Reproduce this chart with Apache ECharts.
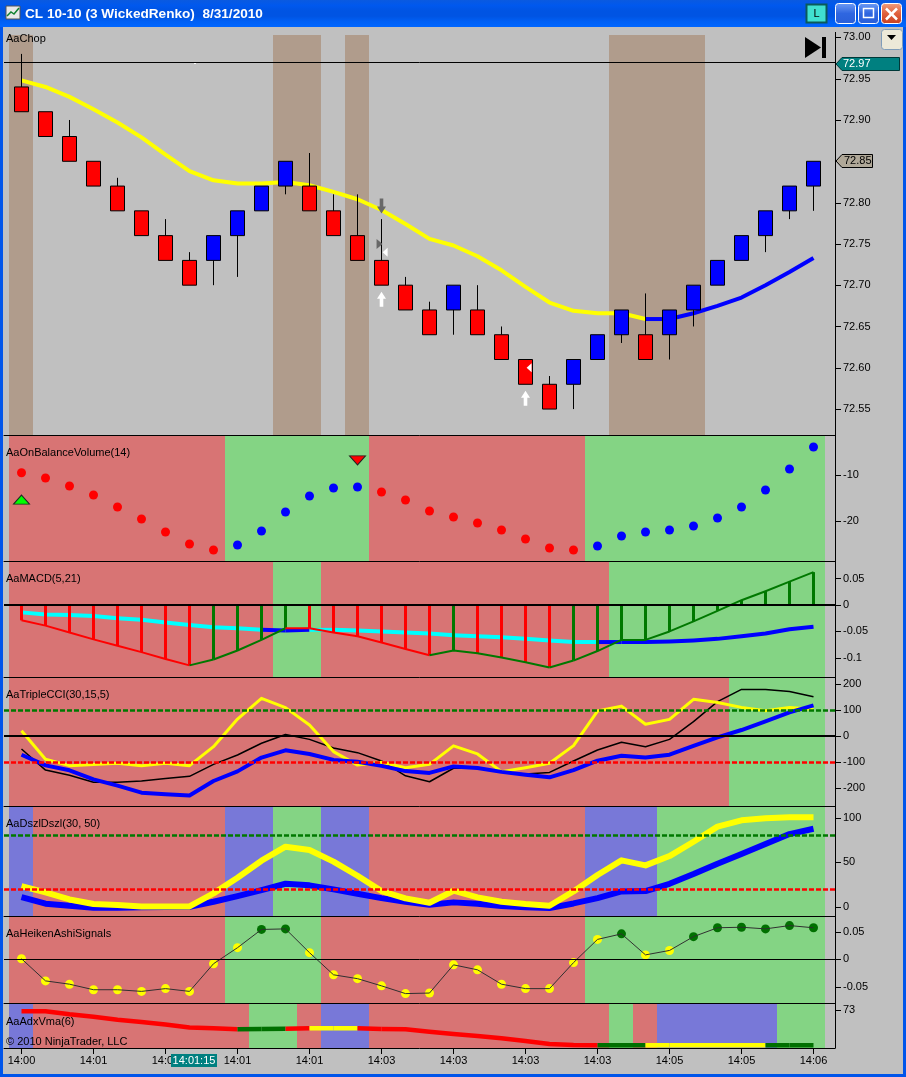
<!DOCTYPE html>
<html><head><meta charset="utf-8">
<style>html,body{margin:0;padding:0;background:#c0c0c0}#c{width:906px;height:1077px}</style>
<script src="https://cdn.jsdelivr.net/npm/echarts@6/dist/echarts.min.js"></script>
</head><body><div id="c"></div>
<script>
// ---------- data ----------
const barOpen  = [72.94,72.91,72.88,72.85,72.82,72.79,72.76,72.73,72.73,72.76,72.79,72.82,72.82,72.79,72.76,72.73,72.70,72.67,72.67,72.67,72.64,72.61,72.58,72.58,72.61,72.64,72.64,72.64,72.67,72.70,72.73,72.76,72.79,72.82];
const barClose = [72.91,72.88,72.85,72.82,72.79,72.76,72.73,72.70,72.76,72.79,72.82,72.85,72.79,72.76,72.73,72.70,72.67,72.64,72.70,72.64,72.61,72.58,72.55,72.61,72.64,72.67,72.61,72.67,72.70,72.73,72.76,72.79,72.82,72.85];
const barLow   = [72.91,72.88,72.85,72.82,72.79,72.76,72.73,72.70,72.70,72.71,72.79,72.81,72.79,72.76,72.73,72.70,72.67,72.64,72.64,72.64,72.61,72.58,72.55,72.55,72.61,72.63,72.61,72.61,72.65,72.70,72.73,72.74,72.78,72.79];
const barHigh  = [72.98,72.91,72.90,72.85,72.83,72.79,72.78,72.74,72.76,72.79,72.82,72.85,72.86,72.81,72.81,72.78,72.71,72.68,72.70,72.70,72.65,72.61,72.59,72.61,72.64,72.67,72.69,72.67,72.70,72.73,72.76,72.79,72.82,72.85];
const sma = [72.948,72.94,72.928,72.913,72.897,72.879,72.858,72.838,72.827,72.823,72.823,72.825,72.821,72.813,72.804,72.791,72.774,72.756,72.748,72.735,72.718,72.698,72.679,72.669,72.666,72.666,72.659,72.659,72.666,72.675,72.685,72.70,72.716,72.733];
const smaColors = 'YYYYYYYYYYYYYYYYYYYYYYYYYYYBBBBBBB';
const chopBands = '#..........##.#..........####.....';

const obv = [-9.57,-10.72,-12.45,-14.39,-16.98,-19.57,-22.37,-24.96,-26.26,-25.18,-22.16,-18.06,-14.6,-12.88,-12.66,-13.74,-15.47,-17.84,-19.14,-20.43,-21.94,-23.88,-25.83,-26.26,-25.4,-23.24,-22.37,-21.94,-21.08,-19.35,-16.98,-13.31,-8.78,-4.03];
const obvColors = 'RRRRRRRRRBBBBBBRRRRRRRRRBBBBBBBBBB';
const obvBands  = 'RRRRRRRRRGGGGGGRRRRRRRRRGGGGGGGGGG';

const macdHist = [-0.029,-0.039,-0.052,-0.065,-0.077,-0.089,-0.102,-0.114,-0.103,-0.086,-0.066,-0.044,-0.044,-0.052,-0.059,-0.071,-0.083,-0.095,-0.086,-0.091,-0.099,-0.108,-0.118,-0.105,-0.087,-0.066,-0.066,-0.05,-0.031,-0.011,0.009,0.026,0.044,0.062];
const macdHistColors = 'RRRRRRRRGGGGRRRRRRGRRRRGGGGGGGGGGG';
const macdSignal = [-0.014,-0.018,-0.019,-0.021,-0.025,-0.028,-0.033,-0.038,-0.042,-0.044,-0.047,-0.048,-0.047,-0.047,-0.048,-0.05,-0.052,-0.054,-0.057,-0.059,-0.061,-0.064,-0.067,-0.07,-0.07,-0.07,-0.07,-0.069,-0.067,-0.064,-0.059,-0.054,-0.046,-0.041];
const macdSignalColors = 'CCCCCCCCCCCBBCCCCCCCCCCCCBBBBBBBBB';
const macdBands = 'RRRRRRRRRRRGGRRRRRRRRRRRRGGGGGGGGG';

const cciYellow = [20.5,-89.7,-114,-110,-105,-114,-105,-114,-41,65,145,109,42,-60,-112,-101,-122,-109,-38,-69,-137,-122,-105,-37,96,115,45,64,141,129,110,97,110,103];
const cciBlack  = [-50,-131,-151,-178,-178,-173,-163,-155,-109,-73,-28,6,-13,-46,-64,-96,-153,-176,-124,-124,-137,-146,-140,-96,-54,-24,-41,-13,55,132,179,179,171,151];
const cciBlue   = [-72,-113,-132,-167,-191,-218,-224,-229,-173,-136,-83,-55,-69,-92,-99,-115,-135,-142,-117,-123,-138,-149,-159,-131,-95,-76,-83,-72,-38,-5,23,56,91,118];
const cciBands  = 'RRRRRRRRRRRRRRRRRRRRRRRRRRRRRRGGGG';

const dszlYellow = [23.2,16.1,8.2,3,1.9,0.4,0.4,0.4,15,32.6,51.7,67.4,63.7,50.6,34.8,17.6,9.4,4.5,18,10.5,5.6,3,1.1,17.2,35.6,52.1,46.4,56.9,73,89.9,97,99.3,100.4,100.4];
const dszlBlue   = [10.9,3.4,1.1,-1.1,-1.1,-0.7,-0.4,0,5.6,12,18.7,25.8,24,19.5,14.6,9.7,5.6,2.2,4.9,3.4,0.7,-0.7,-1.5,3.7,9.7,17.2,17.6,25.8,36.7,48.3,59.2,70.4,81.6,87.6];
const dszlBands  = 'LRRRRRRRRLLGGLLRRRRRRRRRLLLGGGGGGG';

const heiken = [0.001,-0.039,-0.045,-0.055,-0.055,-0.058,-0.053,-0.058,-0.008,0.021,0.054,0.055,0.012,-0.028,-0.035,-0.048,-0.062,-0.061,-0.01,-0.019,-0.045,-0.053,-0.053,-0.006,0.036,0.046,0.008,0.016,0.041,0.057,0.058,0.055,0.061,0.057];
const heikenColors = 'YYYYYYYYYYDDYYYYYYYYYYYYYDYYDDDDDD';
const heikenBands  = 'RRRRRRRRRGGGGRRRRRRRRRRRGGGGGGGGGG';

const adx = [72.989,72.989,72.964,72.944,72.919,72.9,72.878,72.853,72.847,72.839,72.842,72.844,72.847,72.847,72.847,72.842,72.839,72.819,72.8,72.783,72.764,72.742,72.717,72.708,72.706,72.706,72.706,72.706,72.706,72.706,72.706,72.706,72.706,72.706];
const adxColors = 'RRRRRRRRRRDDRYYRRRRRRRRRRDRYYYYYDD';
const adxBands  = 'LRRRRRRRRRGGRLLRRRRRRRRRRGRLLLLLGG';

const timeIndex  = [0,3,6,9,12,15,18,21,24,27,30,33];
const timeLabels = ['14:00','14:01','14:01','14:01','14:01','14:03','14:03','14:03','14:03','14:05','14:05','14:06'];
const mainTicks = [73,72.95,72.9,72.85,72.8,72.75,72.7,72.65,72.6,72.55];
const obvTicks  = [-10,-20];
const macdTicks = [0.05,0,-0.05,-0.1];
const cciTicks  = [200,100,0,-100,-200];
const dszlTicks = [100,50,0];
const heikenTicks = [0.05,0,-0.05];
const adxTicks  = [73];

// ---------- styling ----------
const BG='#c0c0c0';
const BAND={'#':'#b09c8c','R':'#d87474','G':'#84d484','L':'#7878d8','.':null};
const LINE={Y:'#ffff00',B:'#0000ff',R:'#ff0000',C:'#00ffff',G:'#007800',D:'#007000'};
const FONT='"Liberation Sans",Arial,sans-serif';
const panels=[
 {top:35,  bottom:435, min:72.5186,max:73.0029,ticks:mainTicks,fmt:v=>v.toFixed(2)},
 {top:435, bottom:561, min:-28.64,max:-1.43,ticks:obvTicks,fmt:v=>String(v)},
 {top:561, bottom:677, min:-0.136,max:0.083,ticks:macdTicks,fmt:v=>String(v)},
 {top:677, bottom:806, min:-269.2,max:226.9,ticks:cciTicks,fmt:v=>String(v)},
 {top:806, bottom:916, min:-10.4,max:113.1,ticks:dszlTicks,fmt:v=>String(v)},
 {top:916, bottom:1003,min:-0.079,max:0.0783,ticks:heikenTicks,fmt:v=>String(v)},
 {top:1003,bottom:1048,min:72.683,max:73.058,ticks:adxTicks,fmt:v=>String(v)}
];
// bar centres sit half a pixel right of the band centres
const XMIN=-17.5/24, XMAX=813.5/24, BANDSHIFT=0.5/24;
const grid=panels.map(p=>({left:4,width:831,top:p.top,height:p.bottom-p.top}));
const xAxis=panels.map((p,i)=>{const last=i===panels.length-1;return{
  type:'value',gridIndex:i,min:XMIN,max:XMAX,position:'bottom',
  axisLine:{show:true,onZero:false,lineStyle:{color:'#000',width:1}},
  splitLine:{show:false},
  axisTick:{show:false},
  axisLabel:{show:last,customValues:timeIndex,margin:7,fontFamily:FONT,fontSize:11,color:'#000',
    formatter:v=>timeLabels[timeIndex.indexOf(Math.round(v))]||''}
};});
const yAxis=panels.map((p,i)=>({
  type:'value',gridIndex:i,position:'right',min:p.min,max:p.max,
  axisLine:{show:true,onZero:false,lineStyle:{color:'#000',width:1}},
  splitLine:{show:false},
  axisTick:{show:false},
  axisLabel:{show:true,customValues:p.ticks,margin:8,fontFamily:FONT,fontSize:11,color:'#000',formatter:p.fmt}
}));
const pts=a=>a.map((v,i)=>[i,v]);
function bands(panel,str){
  return {type:'custom',xAxisIndex:panel,yAxisIndex:panel,z:0,silent:true,clip:true,
    data:str.split('').map((c,i)=>[i,c]),
    encode:{x:0},
    renderItem(params,api){
      const i=api.value(0), c=str[i], col=BAND[c];
      if(!col) return null;
      const P=panels[panel];
      const a=api.coord([i-0.5-BANDSHIFT,P.max]), b=api.coord([i+0.5-BANDSHIFT,P.min]);
      return {type:'rect',shape:{x:a[0],y:a[1],width:b[0]-a[0],height:b[1]-a[1]},style:{fill:col}};
    }};
}
// tick marks placed through each panel's own scales
function yTicks(panel){
  const P=panels[panel];
  return {type:'custom',xAxisIndex:panel,yAxisIndex:panel,z:9,silent:true,clip:false,
    data:P.ticks.map(v=>[XMAX,v]),encode:{x:0,y:1},
    renderItem(params,api){
      const c=api.coord([XMAX,api.value(1)]), y=Math.round(c[1])+0.5;
      return {type:'line',shape:{x1:c[0],y1:y,x2:c[0]+6,y2:y},style:{stroke:'#000',lineWidth:1}};
    }};
}
function xTicks(panel){
  const P=panels[panel];
  return {type:'custom',xAxisIndex:panel,yAxisIndex:panel,z:9,silent:true,clip:false,
    data:timeIndex.map(v=>[v,P.min]),encode:{x:0,y:1},
    renderItem(params,api){
      const c=api.coord([api.value(0),P.min]), x=Math.floor(c[0])+0.5;
      return {type:'line',shape:{x1:x,y1:c[1],x2:x,y2:c[1]+6},style:{stroke:'#000',lineWidth:1}};
    }};
}
function line(panel,vals,color,width,z,extra){
  return Object.assign({type:'line',xAxisIndex:panel,yAxisIndex:panel,data:pts(vals),symbol:'none',silent:true,z:z||2,
    lineStyle:{color,width,join:'round'}},extra||{});
}
// one line series per colour run; a segment takes the colour of the bar it ends on
function runs(panel,vals,cols,width,z){
  const out=[];let s=0;
  for(let i=1;i<=vals.length;i++){
    if(i===vals.length||cols[i]!==cols[s===0?1:s]){
      const from=s, to=i-1;
      const data=[];for(let k=from;k<=to;k++)data.push([k,vals[k]]);
      out.push({type:'line',xAxisIndex:panel,yAxisIndex:panel,data,symbol:'none',silent:true,z:z||2,
        lineStyle:{color:LINE[cols[from===0?1:from+1]],width,join:'round'}});
      s=to;
    }
  }
  return out;
}
function hline(v,color,width,dash){
  return {silent:true,symbol:'none',label:{show:false},animation:false,
    lineStyle:{color,width:dash?2.5:width,type:dash?[5,2]:'solid'},data:[{yAxis:v}]};
}
const arrowDown='path://M3,0 L7,0 L7,8 L10,8 L5,15 L0,8 L3,8 Z';
const arrowUp='path://M5,0 L10,7 L7,7 L7,15 L3,15 L3,7 L0,7 Z';
const triRight='path://M0,0 L7,5 L0,10 Z';
const triLeft='path://M7,0 L0,5 L7,10 Z';
const series=[
  bands(0,chopBands),bands(1,obvBands),bands(2,macdBands),bands(3,cciBands),bands(4,dszlBands),bands(5,heikenBands),bands(6,adxBands),
  ...panels.map((p,i)=>yTicks(i)),xTicks(6),
  // main panel
  ...runs(0,sma,smaColors,4,2),
  {type:'candlestick',xAxisIndex:0,yAxisIndex:0,z:3,silent:true,barWidth:14,
   data:barOpen.map((o,i)=>[i,o,barClose[i],barLow[i],barHigh[i]]),
   encode:{x:0,y:[1,2,3,4]},
   itemStyle:{color:'#0000ff',color0:'#ff0000',borderColor:'#000',borderColor0:'#000',borderWidth:1}},
  {type:'line',xAxisIndex:0,yAxisIndex:0,data:[],z:2,silent:true,markLine:hline(72.968,'#000',1)},
  {type:'scatter',xAxisIndex:0,yAxisIndex:0,z:4,silent:true,symbol:arrowDown,symbolSize:[9,15],itemStyle:{color:'#686868',opacity:1},data:[[15,72.796]]},
  {type:'scatter',xAxisIndex:0,yAxisIndex:0,z:4,silent:true,symbol:triRight,symbolSize:[6,10],itemStyle:{color:'#686868',opacity:1},data:[[14.92,72.75]]},
  {type:'scatter',xAxisIndex:0,yAxisIndex:0,z:4,silent:true,symbol:triLeft,symbolSize:[5,9],itemStyle:{color:'#fff',opacity:1},data:[[15.15,72.74],[21.15,72.6]]},
  {type:'scatter',xAxisIndex:0,yAxisIndex:0,z:4,silent:true,symbol:arrowUp,symbolSize:[9,15],itemStyle:{color:'#fff',opacity:1},data:[[15,72.683],[21,72.563]]},
  // OBV
  {type:'scatter',xAxisIndex:1,yAxisIndex:1,z:3,silent:true,symbol:'circle',symbolSize:9,
   data:obv.map((v,i)=>({value:[i,v],itemStyle:{color:LINE[obvColors[i]],opacity:1}}))},
  {type:'scatter',xAxisIndex:1,yAxisIndex:1,z:3,silent:true,symbol:'triangle',symbolSize:[16,9],
   itemStyle:{color:'#00ff00',borderColor:'#222',borderWidth:1,opacity:1},data:[[0,-15.4]]},
  {type:'scatter',xAxisIndex:1,yAxisIndex:1,z:3,silent:true,symbol:'triangle',symbolRotate:180,symbolSize:[16,9],
   itemStyle:{color:'#ff0000',borderColor:'#222',borderWidth:1,opacity:1},data:[[14,-6.9]]},
  // MACD
  {type:'bar',xAxisIndex:2,yAxisIndex:2,z:3,silent:true,barWidth:3,
   data:macdHist.map((v,i)=>({value:[i,v],itemStyle:{color:LINE[macdHistColors[i]]}}))},
  ...runs(2,macdSignal,macdSignalColors,4,2),
  ...runs(2,macdHist,macdHistColors,2,4),
  {type:'line',xAxisIndex:2,yAxisIndex:2,data:[],z:4,silent:true,markLine:hline(0,'#000',2)},
  // CCI
  {type:'line',xAxisIndex:3,yAxisIndex:3,data:[],z:1,silent:true,markLine:hline(100,'#007800',2,true)},
  {type:'line',xAxisIndex:3,yAxisIndex:3,data:[],z:1,silent:true,markLine:hline(-100,'#ff0000',2,true)},
  {type:'line',xAxisIndex:3,yAxisIndex:3,data:[],z:1,silent:true,markLine:hline(0,'#000',2)},
  line(3,cciBlack,'#000',1.5,2),
  line(3,cciYellow,'#ffff00',3,2),
  line(3,cciBlue,'#0000ff',4,3),
  // Dszl
  {type:'line',xAxisIndex:4,yAxisIndex:4,data:[],z:1,silent:true,markLine:hline(80,'#007800',2,true)},
  {type:'line',xAxisIndex:4,yAxisIndex:4,data:[],z:1,silent:true,markLine:hline(20,'#ff0000',2,true)},
  line(4,dszlBlue,'#0000ff',6,2),
  line(4,dszlYellow,'#ffff00',6,3),
  // Heiken Ashi
  {type:'line',xAxisIndex:5,yAxisIndex:5,data:[],z:1,silent:true,markLine:hline(0,'#000',1)},
  line(5,heiken,'#303030',1,2),
  {type:'scatter',xAxisIndex:5,yAxisIndex:5,z:1,silent:true,symbol:'circle',symbolSize:9,
   data:heiken.map((v,i)=>({value:[i,v],itemStyle:{color:heikenColors[i]==='D'?LINE.D:LINE.Y,opacity:1}}))},
  // ADX VMA
  ...runs(6,adx,adxColors,4.5,2)
];
const label=(t,y,o)=>Object.assign({type:'text',x:6,y,style:{text:t,fill:'#000',font:'11px '+FONT,textVerticalAlign:'middle'},z:50},o||{});
const rect=(x,y,w,h,fill,extra)=>Object.assign({type:'rect',shape:{x,y,width:w,height:h},style:Object.assign({fill},extra&&extra.style||{}),z:60},extra&&extra.shape?{shape:Object.assign({x,y,width:w,height:h},extra.shape)}:{});
const grad=(...cs)=>({type:'linear',x:0,y:0,x2:0,y2:1,colorStops:cs.map((c,i)=>({offset:i/(cs.length-1),color:c}))});
const btn=(x,fill)=>({type:'rect',shape:{x,y:3.5,width:20,height:20,r:3},style:{fill,stroke:'#fff',lineWidth:1},z:61});
const graphic=[
  // window frame
  rect(0,0,906,27,grad('#0a5ae0','#0058ee','#0054e3','#0054e3','#0060f5','#0066ff')),
  rect(0,27,3,1050,'#0055ea'),rect(903,27,3,1050,'#0055ea'),rect(0,1074,906,3,'#0055ea'),
  // title icon
  rect(6,6,14,13,'#e8e8e8',{style:{stroke:'#555'}}),
  {type:'polyline',shape:{points:[[7,16],[11,12],[14,14],[19,8]]},style:{stroke:'#108030',lineWidth:1.5,fill:null},z:62},
  {type:'text',x:25,y:14,style:{text:'CL 10-10 (3 WickedRenko)  8/31/2010',fill:'#fff',font:'bold 13.6px '+FONT,textVerticalAlign:'middle'},z:62},
  // window buttons
  {type:'rect',shape:{x:806.5,y:4.5,width:20,height:18},style:{fill:'#40e0d0',stroke:'#0a5a5a',lineWidth:2},z:61},
  {type:'text',x:816.5,y:14,style:{text:'L',fill:'#000',font:'11px '+FONT,textAlign:'center',textVerticalAlign:'middle'},z:62},
  btn(835.5,grad('#6f9cf5','#2f66e0','#2a5fd8')),
  btn(858.5,grad('#6f9cf5','#2f66e0','#2a5fd8')),
  btn(881.5,grad('#f0a080','#e0603c','#c84020')),
  rect(842,17,7,3,'#fff'),
  {type:'rect',shape:{x:863.5,y:8.5,width:10,height:9},style:{fill:null,stroke:'#fff',lineWidth:1.5},z:62},
  rect(863,8,11,2,'#fff'),
  {type:'polyline',shape:{points:[[886,8.5],[897,19.5]]},style:{stroke:'#fff',lineWidth:2.5,fill:null},z:62},
  {type:'polyline',shape:{points:[[897,8.5],[886,19.5]]},style:{stroke:'#fff',lineWidth:2.5,fill:null},z:62},
  // chart-trader controls
  {type:'polygon',shape:{points:[[805,37],[821,47.5],[805,58]]},style:{fill:'#000'},z:50},
  rect(822,37,4,21,'#000'),
  {type:'rect',shape:{x:881.5,y:29.5,width:21,height:20,r:3},style:{fill:'#ece9d8',stroke:'#7f9db9',lineWidth:1},z:50},
  {type:'polygon',shape:{points:[[887,35],[896,35],[891.5,40]]},style:{fill:'#000'},z:51},
  // axis stub above the price panel
  {type:'line',shape:{x1:835.5,y1:32,x2:835.5,y2:35},style:{stroke:'#000',lineWidth:1},z:50},
  // price tags
  {type:'polygon',shape:{points:[[836,64],[842,57.5],[899.5,57.5],[899.5,70.5],[842,70.5]]},style:{fill:'#008080',stroke:'#003838',lineWidth:1},z:50},
  {type:'text',x:843,y:64,style:{text:'72.97',fill:'#fff',font:'11px '+FONT,textVerticalAlign:'middle'},z:51},
  {type:'polygon',shape:{points:[[836,161],[842,154.5],[872.5,154.5],[872.5,167.5],[842,167.5]]},style:{fill:'#b0a898',stroke:'#000',lineWidth:1},z:50},
  {type:'text',x:844,y:161,style:{text:'72.85',fill:'#000',font:'11px '+FONT,textVerticalAlign:'middle'},z:51},
  // crosshair time tag
  rect(171,1054,46,13,'#008080'),
  {type:'text',x:194,y:1060.5,style:{text:'14:01:15',fill:'#fff',font:'11px '+FONT,textAlign:'center',textVerticalAlign:'middle'},z:61},
  // small crosshair remnant on the last-price line
  rect(194,63,2,1,'#fff'),
  // panel names
  label('AaChop',39),label('AaOnBalanceVolume(14)',453),label('AaMACD(5,21)',579),label('AaTripleCCI(30,15,5)',695),
  label('AaDszlDszl(30, 50)',824),label('AaHeikenAshiSignals',934),label('AaAdxVma(6)',1022),label('© 2010 NinjaTrader, LLC',1042)
];
const chart=echarts.init(document.getElementById('c'),null,{renderer:'canvas',width:906,height:1077});
chart.setOption({animation:false,backgroundColor:BG,grid,xAxis,yAxis,series,graphic:{elements:graphic}});
</script></body></html>
